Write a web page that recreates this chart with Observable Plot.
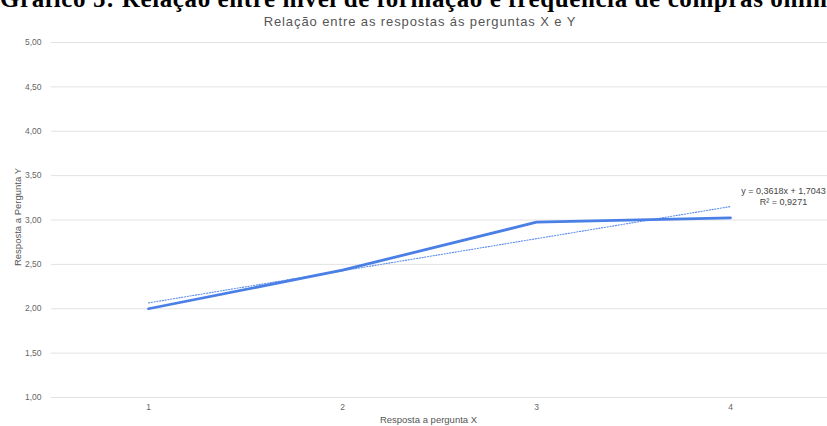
<!DOCTYPE html>
<html>
<head>
<meta charset="utf-8">
<script src="https://cdn.jsdelivr.net/npm/d3@7"></script>
<script src="https://cdn.jsdelivr.net/npm/@observablehq/plot@0.6"></script>
<style>
  body { margin: 0; background: #fff; }
  #wrap { position: relative; width: 827px; height: 426px; overflow: hidden; background: #fff; }
  #title { position: absolute; left: 0px; top: -14px; font: bold 25px "Liberation Serif", serif; line-height: 25px; letter-spacing: 0.6px; white-space: nowrap; color: #000; z-index: 2; }
  #subtitle { position: absolute; left: 0; width: 840px; top: 14px; text-align: center; font: 13px "Liberation Sans", Arial, sans-serif; letter-spacing: 0.9px; color: #555; z-index: 2; }
  #chart { position: absolute; left: 0; top: 0; }
</style>
</head>
<body>
<div id="wrap">
  <div id="title">Gráfico 5: Relação entre nível de formação e frequência de compras online</div>
  <div id="subtitle">Relação entre as respostas ás perguntas X e Y</div>
  <div id="chart"></div>
</div>
<script>
// Answers to question X (categories) and mean answer to question Y
const xAnswers = [1, 2, 3, 4];
const yAnswers = [2.00, 2.435, 2.975, 3.025];

// Linear trendline as reported on the chart
const trendSlope = 0.3618;
const trendIntercept = 1.7043;
const trendR2 = 0.9271;

// Axis ticks
const yTicks = [1, 1.5, 2, 2.5, 3, 3.5, 4, 4.5, 5];
const xTicks = [1, 2, 3, 4];

const fmt = (v, d) => v.toFixed(d).replace(".", ",");

const series = xAnswers.map((x, i) => ({x, y: yAnswers[i]}));
const trend = [xAnswers[0], xAnswers[xAnswers.length - 1]].map(x => ({x, y: trendSlope * x + trendIntercept}));
const equation = `y = ${fmt(trendSlope, 4)}x + ${fmt(trendIntercept, 4)}\nR² = ${fmt(trendR2, 4)}`;

const chart = Plot.plot({
  width: 827,
  height: 426,
  marginLeft: 51,
  marginRight: 0,
  marginTop: 42,
  marginBottom: 29,
  style: {fontFamily: "'Liberation Sans', Arial, sans-serif", fontSize: "8.5px", color: "#666", background: "transparent"},
  x: {domain: [0.5, 4.5], ticks: xTicks, tickFormat: d => String(d), tickSize: 0, tickPadding: 6, label: null},
  y: {domain: [1, 5], ticks: yTicks, tickFormat: d => fmt(d, 2), tickSize: 0, tickPadding: 10, label: null},
  marks: [
    Plot.ruleY(yTicks, {stroke: "#e2e2e2", strokeWidth: 1}),
    Plot.line(trend, {x: "x", y: "y", stroke: "#5a8de8", strokeWidth: 1.1, strokeDasharray: "1.2,1.6"}),
    Plot.line(series, {x: "x", y: "y", stroke: "#4a7fe6", strokeWidth: 2.8}),
    Plot.text([equation], {frameAnchor: "top-right", dx: -44, dy: 143, text: d => d, textAnchor: "middle", fontSize: 9, fill: "#444", lineHeight: 1.25}),
    Plot.text(["Resposta a Pergunta Y"], {frameAnchor: "left", dx: -34, dy: -3, rotate: -90, textAnchor: "middle", text: d => d, fontSize: 9.5, fill: "#555"}),
    Plot.text(["Resposta a pergunta X"], {frameAnchor: "bottom", dx: -11, dy: 25, text: d => d, fontSize: 9.5, fill: "#555"})
  ]
});
document.getElementById("chart").appendChild(chart);
</script>
</body>
</html>
